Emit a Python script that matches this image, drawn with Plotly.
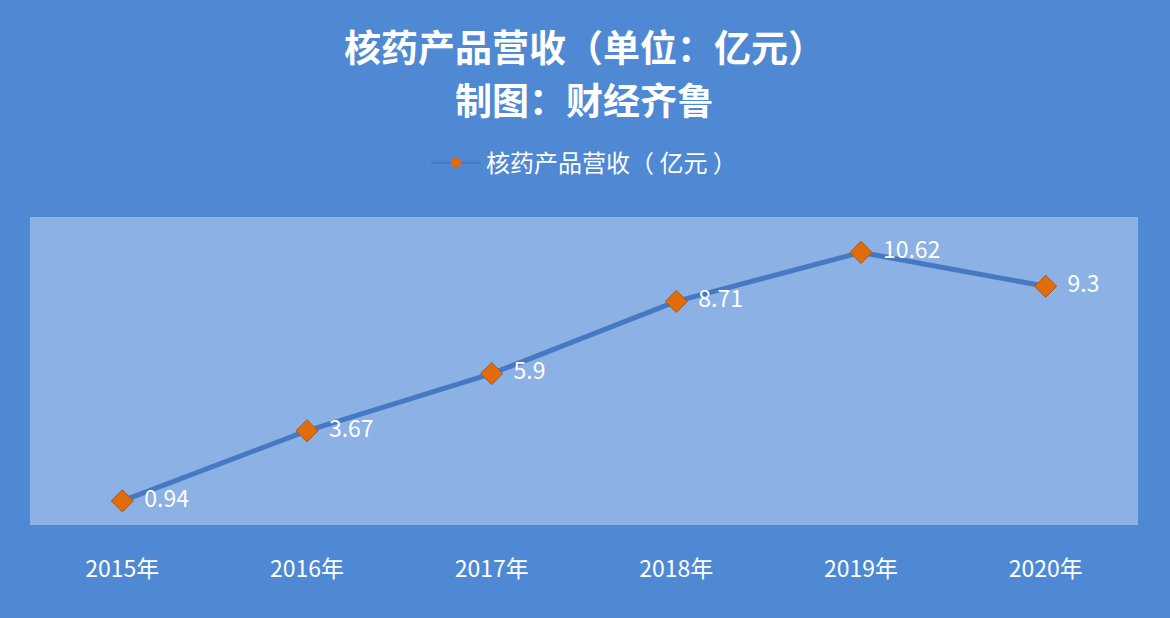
import plotly.graph_objects as go

years = ["2015年", "2016年", "2017年", "2018年", "2019年", "2020年"]
revenue = [0.94, 3.67, 5.9, 8.71, 10.62, 9.3]
labels = ["0.94", "3.67", "5.9", "8.71", "10.62", "9.3"]
series_name = "核药产品营收（ 亿元 ）"
title_line1 = "核药产品营收（单位：亿元）"
title_line2 = "制图：财经齐鲁"

FONT = "Noto Sans CJK SC"
LINE_C = "#4779c2"
MARK_C = "#e36c0a"

fig = go.Figure()
fig.add_trace(go.Scatter(
    x=years, y=revenue, name=series_name, showlegend=False,
    mode="lines+markers+text",
    text=["  " + s for s in labels],
    textposition="middle right",
    textfont=dict(color="white", size=23, family=FONT),
    line=dict(color=LINE_C, width=5),
    marker=dict(symbol="diamond", size=17, color=MARK_C,
                line=dict(color="#9c5a2a", width=1)),
))
# legend entry (no data of its own)
fig.add_trace(go.Scatter(
    x=[None], y=[None], name=series_name, showlegend=True,
    mode="lines+markers",
    line=dict(color=LINE_C, width=2),
    marker=dict(symbol="circle", size=10, color=MARK_C),
))

fig.update_layout(
    width=1170, height=618,
    paper_bgcolor="#4f89d3",
    plot_bgcolor="#8cb1e5",
    margin=dict(l=30, r=32, t=217, b=93),
    font=dict(family=FONT, color="white"),
    showlegend=True,
    legend=dict(orientation="h", x=0.5, xanchor="center", y=1.175, yanchor="middle",
                font=dict(size=24, color="white", family=FONT),
                itemwidth=50,
                bgcolor="rgba(0,0,0,0)"),
    xaxis=dict(type="category", range=[-0.5, 5.5], showgrid=False, zeroline=False,
               showline=False, ticks="", ticklabelstandoff=28,
               tickfont=dict(size=23, color="white", family=FONT)),
    yaxis=dict(range=[0, 12], visible=False, showgrid=False, zeroline=False),
    annotations=[
        dict(text="<b>" + title_line1 + "</b>", x=0.5, y=46, xref="paper", yref="paper",
             showarrow=False, font=dict(size=37, color="white", family=FONT)),
        dict(text="<b>" + title_line2 + "</b>", x=0.5, y=99, xref="paper", yref="paper",
             showarrow=False, font=dict(size=37, color="white", family=FONT)),
    ],
)
plot_h = 618 - 217 - 93
for ann in fig.layout.annotations:
    ann.y = 1 + (217 - ann.y) / plot_h
    ann.yanchor = "middle"
    ann.xanchor = "center"

fig.write_html("out.html", config={"displayModeBar": False})

with open("out.html", "r", encoding="utf-8") as f:
    html = f.read()
html = html.replace("<head>", "<head><style>html,body{margin:0;padding:0;overflow:hidden;}</style>", 1)
with open("out.html", "w", encoding="utf-8") as f:
    f.write(html)
